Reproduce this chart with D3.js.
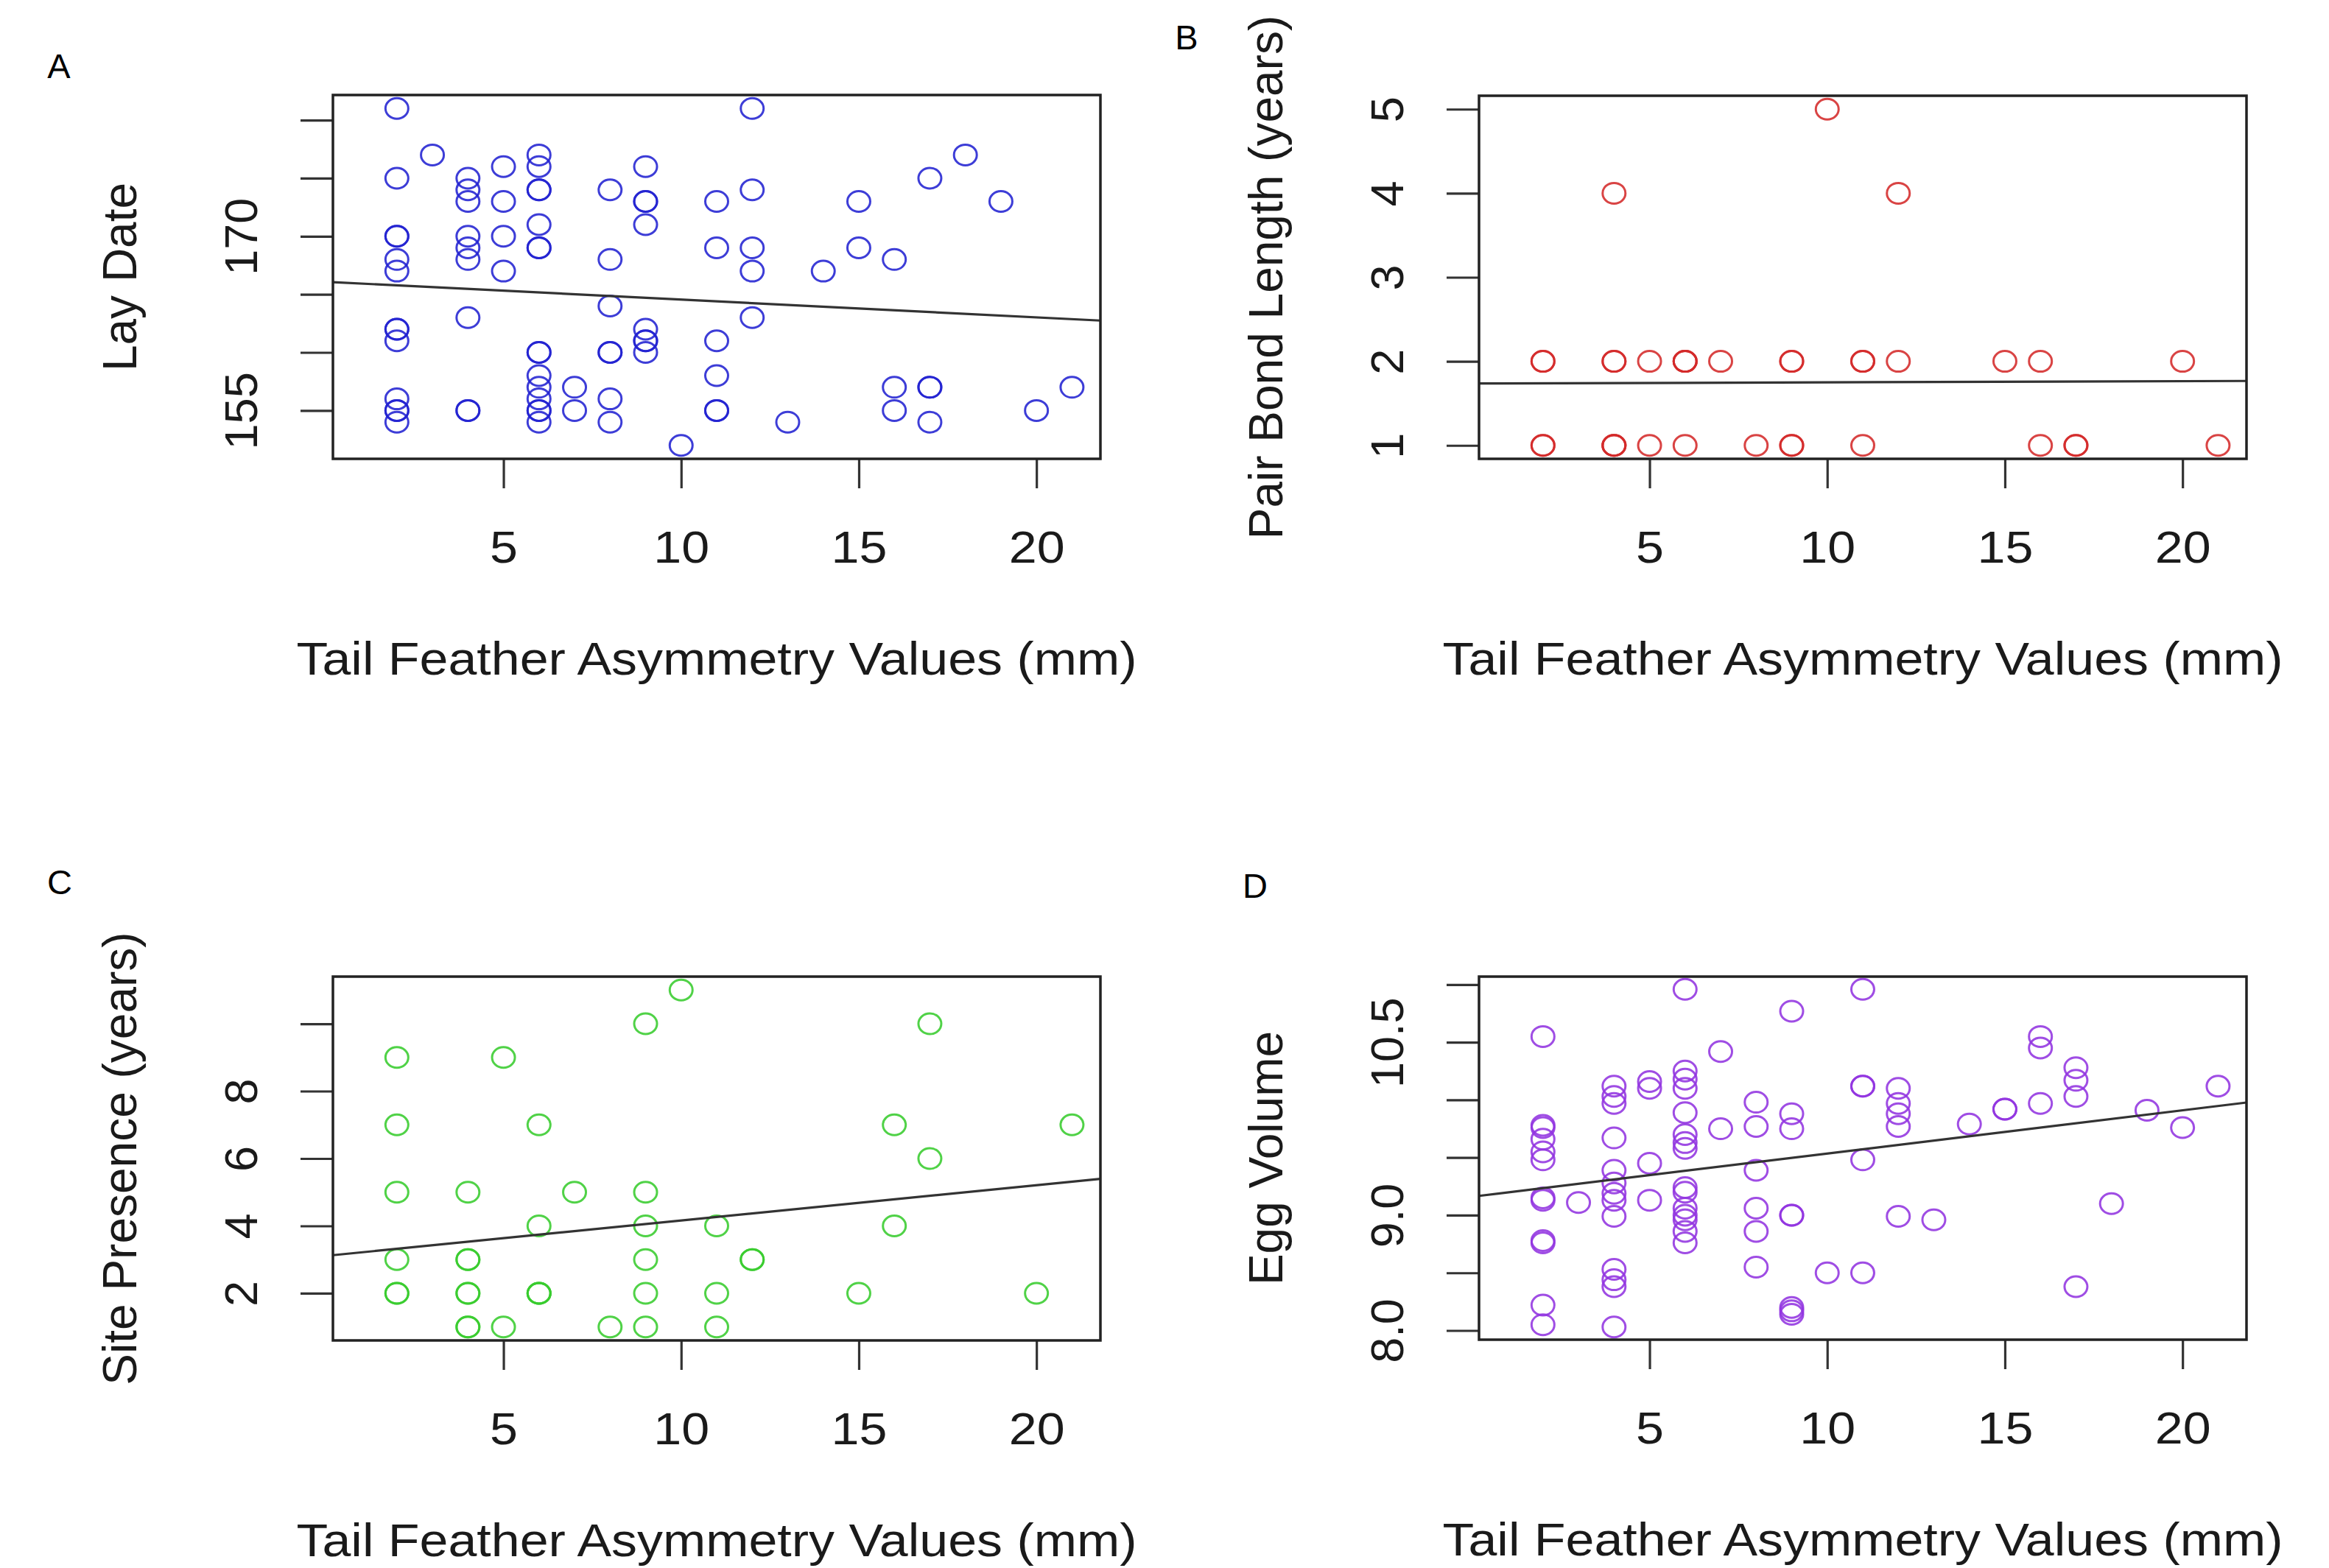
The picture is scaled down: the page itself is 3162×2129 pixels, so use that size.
<!DOCTYPE html>
<html>
<head>
<meta charset="utf-8">
<script src="https://cdn.jsdelivr.net/npm/d3@7"></script>
<style>
    body { margin: 0; background: #ffffff; }
    svg text { font-family: "Liberation Sans", Arial, Helvetica, sans-serif; fill: #1a1a1a; }
</style>
</head>
<body>
<svg id="figure" width="3162" height="2129"></svg>
<script>
// x = tail feather asymmetry (mm), shared by all four panels
const xTicks = [5, 10, 15, 20];
const xTitle = "Tail Feather Asymmetry Values (mm)";

// A: lay date
const layDatePoints = [
    [2, 181], [2, 175], [2, 170], [2, 170], [2, 168], [2, 167], [2, 162], [2, 162], [2, 161], [2, 156], [2, 155], [2, 155], [2, 154],
    [3, 177],
    [4, 175], [4, 174], [4, 173], [4, 170], [4, 169], [4, 168], [4, 163], [4, 155], [4, 155],
    [5, 176], [5, 173], [5, 170], [5, 167],
    [6, 177], [6, 176], [6, 174], [6, 174], [6, 171], [6, 169], [6, 169], [6, 160], [6, 160], [6, 158], [6, 157], [6, 156], [6, 155], [6, 155], [6, 154],
    [7, 157], [7, 155],
    [8, 174], [8, 168], [8, 164], [8, 160], [8, 160], [8, 156], [8, 154],
    [9, 176], [9, 173], [9, 173], [9, 171], [9, 162], [9, 161], [9, 161], [9, 160],
    [10, 152],
    [11, 173], [11, 169], [11, 161], [11, 158], [11, 155], [11, 155],
    [12, 181], [12, 174], [12, 169], [12, 167], [12, 163],
    [13, 154], [14, 167], [15, 173], [15, 169],
    [16, 168], [16, 157], [16, 155],
    [17, 175], [17, 157], [17, 157], [17, 154],
    [18, 177], [19, 173], [20, 155], [21, 157]
];
const layDateFit = [166.08, -0.153];   // intercept, slope
const layDateTicks = [155, 160, 165, 170, 175, 180];
const layDateLabels = [155, 170];

// B: pair bond length
const pairBondPoints = [
    [10, 5], [4, 4], [12, 4],
    [2, 2], [2, 2], [4, 2], [4, 2], [5, 2], [6, 2], [6, 2], [6, 2], [7, 2], [9, 2], [9, 2], [11, 2], [11, 2], [12, 2], [15, 2], [16, 2], [20, 2],
    [2, 1], [2, 1], [4, 1], [4, 1], [4, 1], [5, 1], [6, 1], [8, 1], [9, 1], [9, 1], [11, 1], [16, 1], [17, 1], [17, 1], [21, 1]
];
const pairBondFit = [1.736, 0.0014];
const pairBondTicks = [1, 2, 3, 4, 5];
const pairBondLabels = [1, 2, 3, 4, 5];

// C: site presence
const sitePresencePoints = [
    [10, 11], [9, 10], [17, 10], [2, 9], [5, 9],
    [2, 7], [6, 7], [16, 7], [21, 7], [17, 6],
    [2, 5], [4, 5], [7, 5], [9, 5],
    [6, 4], [9, 4], [11, 4], [16, 4],
    [2, 3], [4, 3], [4, 3], [9, 3], [12, 3], [12, 3],
    [2, 2], [2, 2], [4, 2], [4, 2], [6, 2], [6, 2], [6, 2], [9, 2], [11, 2], [15, 2], [20, 2],
    [4, 1], [4, 1], [5, 1], [8, 1], [9, 1], [11, 1]
];
const sitePresenceFit = [3.109, 0.105];
const sitePresenceTicks = [2, 4, 6, 8, 10];
const sitePresenceLabels = [2, 4, 6, 8];

// D: egg volume
const eggVolumePoints = [
    [2, 10.55], [2, 9.78], [2, 9.76], [2, 9.66], [2, 9.55], [2, 9.48], [2, 9.15], [2, 9.13], [2, 8.78], [2, 8.76], [2, 8.22], [2, 8.05],
    [3, 9.11],
    [4, 10.12], [4, 10.03], [4, 9.97], [4, 9.67], [4, 9.39], [4, 9.28], [4, 9.19], [4, 9.13], [4, 8.99], [4, 8.53], [4, 8.44], [4, 8.38], [4, 8.03],
    [5, 10.16], [5, 10.10], [5, 9.45], [5, 9.13],
    [6, 10.96], [6, 10.25], [6, 10.18], [6, 10.10], [6, 9.89], [6, 9.70], [6, 9.63], [6, 9.58], [6, 9.24], [6, 9.20], [6, 9.06], [6, 9.00], [6, 8.96], [6, 8.86], [6, 8.76],
    [7, 10.42], [7, 9.75],
    [8, 9.98], [8, 9.77], [8, 9.39], [8, 9.06], [8, 8.86], [8, 8.55],
    [9, 10.77], [9, 9.88], [9, 9.75], [9, 9.00], [9, 9.00], [9, 8.20], [9, 8.17], [9, 8.14],
    [10, 8.50],
    [11, 10.96], [11, 10.12], [11, 10.12], [11, 9.48], [11, 8.50],
    [12, 10.10], [12, 9.97], [12, 9.88], [12, 9.77], [12, 8.99],
    [13, 8.96], [14, 9.79], [15, 9.92], [15, 9.92],
    [16, 10.55], [16, 10.45], [16, 9.97],
    [17, 10.28], [17, 10.17], [17, 10.03], [17, 8.38],
    [18, 9.10], [19, 9.91], [20, 9.76], [21, 10.12]
];
const eggVolumeFit = [9.16, 0.0375];
const eggVolumeTicks = [8, 8.5, 9, 9.5, 10, 10.5, 11];
const eggVolumeLabels = [8, 9, 10.5];


class ScatterPanel {
    constructor(_parentElement, _points, _fit, _config) {
        this.parentElement = _parentElement;
        this.points = _points;
        this.fit = _fit;
        this.config = _config;

        this.initVis();
    }

    initVis() {
        let vis = this;
        let cfg = vis.config;

        vis.width = cfg.width;
        vis.height = cfg.height;

        vis.svg = vis.parentElement.append("g")
            .attr("transform", `translate(${cfg.left}, ${cfg.top})`);

        // R pads the data range by 4% on each side
        vis.xScale = d3.scaleLinear()
            .domain([0.2, 21.8])
            .range([0, vis.width]);

        vis.yScale = d3.scaleLinear()
            .domain(cfg.yDomain)
            .range([vis.height, 0]);

        // x axis
        vis.xAxis = d3.axisBottom(vis.xScale)
            .tickValues(xTicks)
            .tickSize(40)
            .tickFormat(d3.format("d"));

        vis.xAxisGroup = vis.svg.append("g")
            .attr("class", "axis x-axis")
            .attr("transform", `translate(0, ${vis.height})`)
            .call(vis.xAxis);

        // y axis, only some ticks carry a label (as R drops overlapping ones)
        vis.yAxis = d3.axisLeft(vis.yScale)
            .tickValues(cfg.yTicks)
            .tickSize(44)
            .tickFormat(d => cfg.yLabels.includes(d) ? d3.format(cfg.yFormat)(d) : "");

        vis.yAxisGroup = vis.svg.append("g")
            .attr("class", "axis y-axis")
            .call(vis.yAxis);

        [vis.xAxisGroup, vis.yAxisGroup].forEach(g => {
            g.attr("font-size", null).attr("font-family", null);
            g.select(".domain").remove();
            g.selectAll(".tick line")
                .attr("stroke", "#333")
                .attr("stroke-width", 3.2);
        });

        vis.xAxisGroup.selectAll(".tick text")
            .attr("y", 141)
            .attr("dy", 0)
            .attr("transform", "scale(1.1, 1)")
            .style("font-size", "62px");

        vis.yAxisGroup.selectAll(".tick text")
            .attr("x", 0)
            .attr("y", -103)
            .attr("dy", 0)
            .attr("transform", "rotate(-90)")
            .attr("text-anchor", "middle")
            .style("font-size", "63px");

        // points
        vis.svg.selectAll(".dot")
            .data(vis.points)
            .enter()
            .append("ellipse")
            .attr("class", "dot")
            .attr("cx", d => vis.xScale(d[0]))
            .attr("cy", d => vis.yScale(d[1]))
            .attr("rx", 15.5)
            .attr("ry", 14)
            .attr("fill", "none")
            .attr("stroke", cfg.color)
            .attr("stroke-width", 3)
            .attr("stroke-opacity", 0.88);

        // fitted regression line
        let xEnds = vis.xScale.domain();
        vis.svg.append("path")
            .datum(xEnds)
            .attr("fill", "none")
            .attr("stroke", "#333")
            .attr("stroke-width", 3.2)
            .attr("d", d3.line()
                .x(d => vis.xScale(d))
                .y(d => vis.yScale(vis.fit[0] + vis.fit[1] * d)));

        // plot box
        vis.svg.append("rect")
            .attr("width", vis.width)
            .attr("height", vis.height)
            .attr("fill", "none")
            .attr("stroke", "#222")
            .attr("stroke-width", 3.5);

        // axis titles
        vis.svg.append("text")
            .attr("class", "axis-label")
            .attr("transform", `translate(${vis.width / 2}, ${vis.height + 293}) scale(1.11, 1)`)
            .attr("text-anchor", "middle")
            .style("font-size", "63px")
            .text(xTitle);

        vis.svg.append("text")
            .attr("class", "axis-label")
            .attr("transform", `translate(-267, ${vis.height / 2}) rotate(-90)`)
            .attr("text-anchor", "middle")
            .style("font-size", "64px")
            .text(cfg.yTitle);

        // panel letter
        vis.parentElement.append("text")
            .attr("x", cfg.letterX)
            .attr("y", cfg.letterY + 17)
            .attr("text-anchor", "middle")
            .style("font-size", "47px")
            .style("fill", "#000")
            .text(cfg.letter);
    }
}

let figure = d3.select("#figure");

figure.append("rect")
    .attr("width", 3162)
    .attr("height", 2129)
    .attr("fill", "#ffffff");

new ScatterPanel(figure, layDatePoints, layDateFit, {
    left: 452, top: 129, width: 1042, height: 494,
    yDomain: [150.84, 182.16], yTicks: layDateTicks, yLabels: layDateLabels, yFormat: "d",
    yTitle: "Lay Date", color: "#2222d2",
    letter: "A", letterX: 80, letterY: 89
});

new ScatterPanel(figure, pairBondPoints, pairBondFit, {
    left: 2008, top: 130, width: 1042, height: 493,
    yDomain: [0.84, 5.16], yTicks: pairBondTicks, yLabels: pairBondLabels, yFormat: "d",
    yTitle: "Pair Bond Length (years)", color: "#d42a2a",
    letter: "B", letterX: 1611, letterY: 50
});

new ScatterPanel(figure, sitePresencePoints, sitePresenceFit, {
    left: 452, top: 1326, width: 1042, height: 494,
    yDomain: [0.6, 11.4], yTicks: sitePresenceTicks, yLabels: sitePresenceLabels, yFormat: "d",
    yTitle: "Site Presence (years)", color: "#38cc2e",
    letter: "C", letterX: 81, letterY: 1197
});

new ScatterPanel(figure, eggVolumePoints, eggVolumeFit, {
    left: 2008, top: 1326, width: 1042, height: 493,
    yDomain: [7.92, 11.07], yTicks: eggVolumeTicks, yLabels: eggVolumeLabels, yFormat: ".1f",
    yTitle: "Egg Volume", color: "#9234e0",
    letter: "D", letterX: 1704, letterY: 1202
});
</script>
</body>
</html>
